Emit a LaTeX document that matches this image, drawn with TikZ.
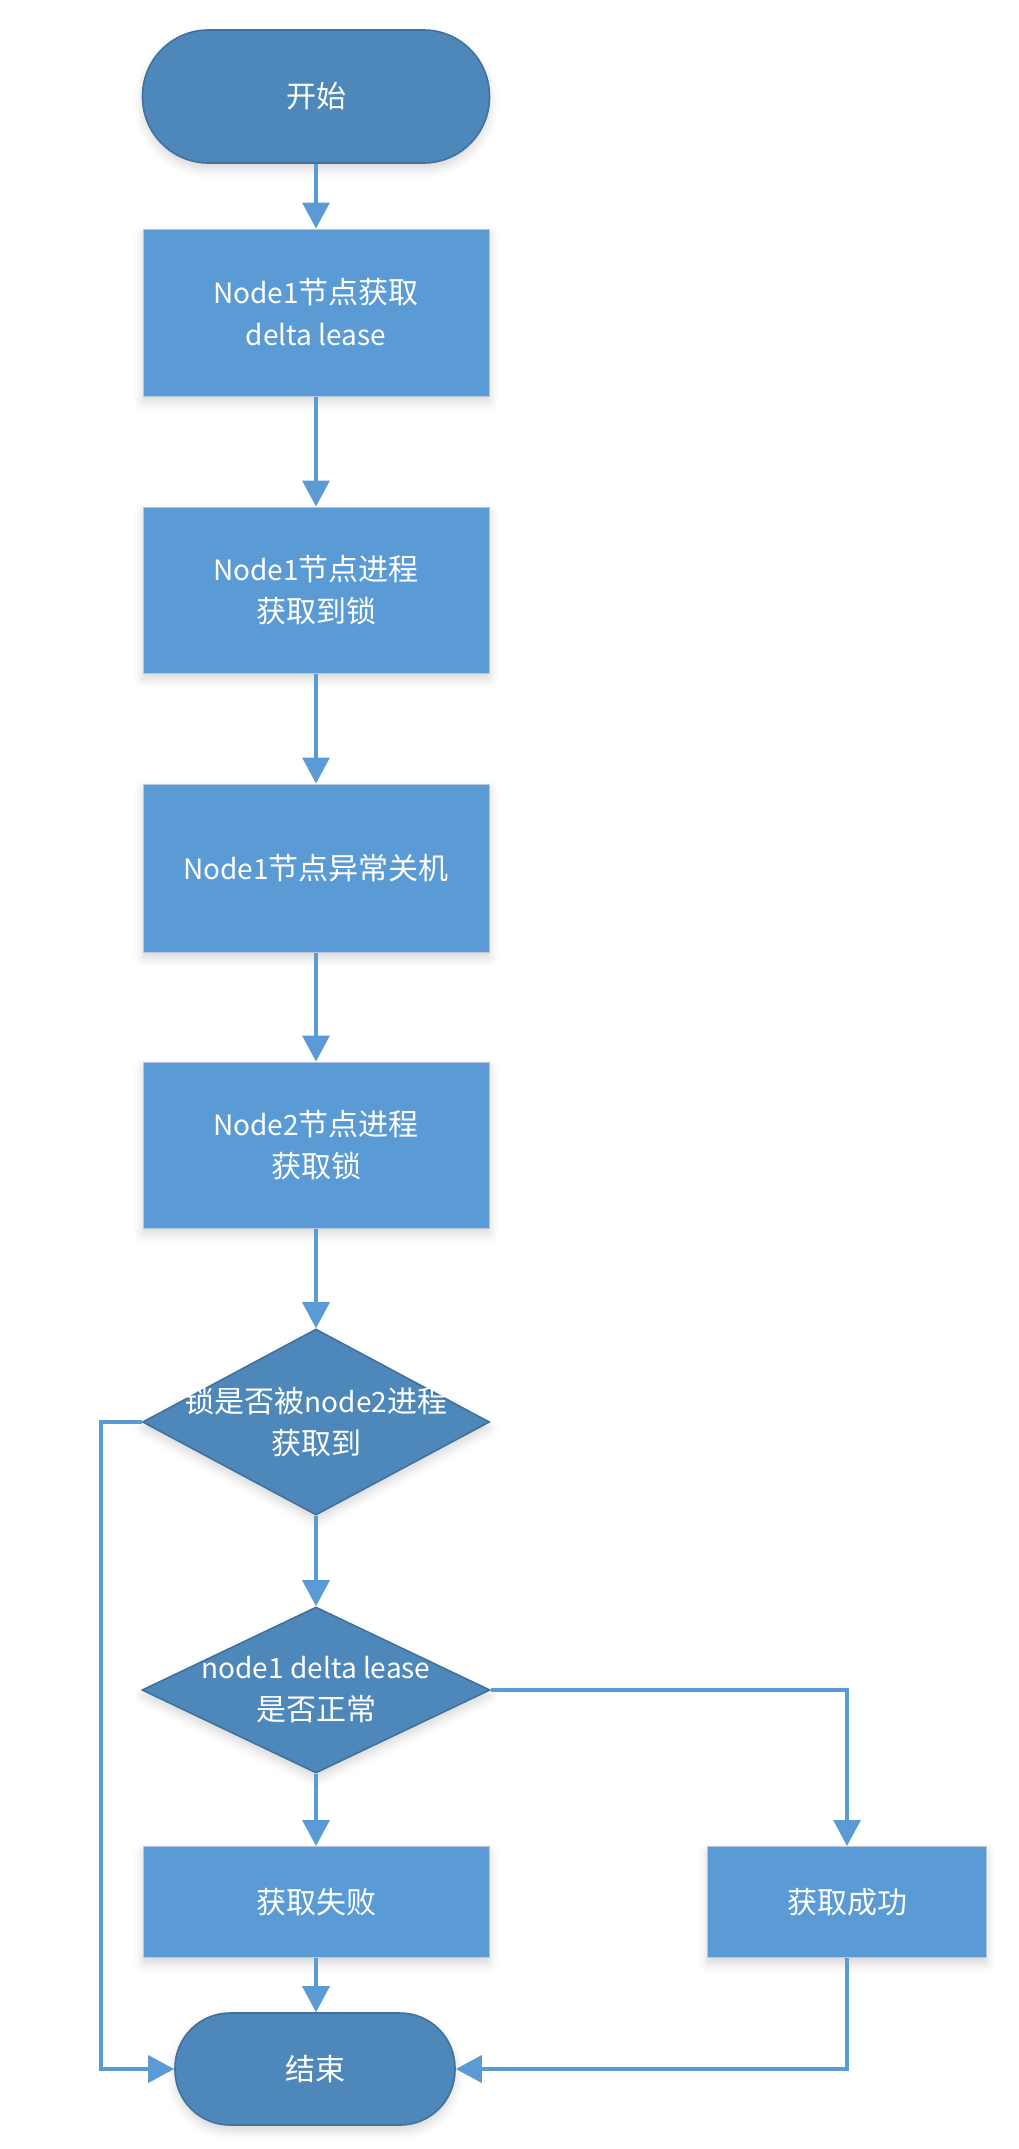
\documentclass[tikz,border=0pt]{standalone}
\usepackage{fontspec}
\setmainfont{Noto Sans CJK SC}
\usetikzlibrary{shapes.geometric,arrows.meta,shadows.blur}

\definecolor{boxfill}{HTML}{5B9BD5}
\definecolor{boxline}{HTML}{B8C8DA}
\definecolor{termfill}{HTML}{4E88BB}
\definecolor{termline}{HTML}{41719C}
\definecolor{flow}{HTML}{5B9BD5}

% Chinese characters are set a little larger than the Latin text
\newcommand\zh[1]{{\fontsize{30}{42}\selectfont#1}}

\begin{document}
\begin{tikzpicture}[x=1pt,y=-1pt,
  softshadow/.style={blur shadow={shadow xshift=0pt, shadow yshift=-6pt,
      shadow blur radius=9pt, shadow opacity=16}},
  stepbox/.style={rectangle, fill=boxfill, draw=boxline, line width=1pt,
      minimum width=346pt, minimum height=166pt, inner sep=0pt, softshadow},
  term/.style={rectangle, fill=termfill, draw=termline, line width=1.6pt,
      inner sep=0pt, softshadow},
  decision/.style={diamond, fill=termfill, draw=termline, line width=1.6pt,
      inner sep=0pt, softshadow},
  txt/.style={text=white, font=\fontsize{28}{42}\selectfont, align=center},
  flowline/.style={draw=flow, line width=3.5pt,
      -{Triangle[width=27pt,length=26pt]}},
]
\useasboundingbox (0,0) rectangle (1019,2149);

% start terminal
\node[term, rounded corners=66pt, minimum width=347pt, minimum height=133pt,
      txt] (start) at (316,96.5) {\zh{开始}};

% process steps
\node[stepbox, minimum height=167pt, txt] (b1) at (316,312.5)
  {Node1\zh{节点获取}\\delta lease};
\node[stepbox, txt] (b2) at (316,590) {Node1\zh{节点进程}\\\zh{获取到锁}};
\node[stepbox, minimum height=168pt, txt] (b3) at (316,868) {Node1\zh{节点异常关机}};
\node[stepbox, txt] (b4) at (316,1145) {Node2\zh{节点进程}\\\zh{获取锁}};

% decisions (empty diamonds, text placed on top)
\node[decision, minimum width=347pt, minimum height=186pt] (d1) at (316,1422) {};
\node[txt] (d1t) at (316,1422) {\zh{锁是否被}node2\zh{进程}\\\zh{获取到}};
\node[decision, minimum width=348pt, minimum height=166pt] (d2) at (316,1690) {};
\node[txt] (d2t) at (316,1690) {node1 delta lease\\\zh{是否正常}};

% outcomes
\node[stepbox, minimum height=111pt, txt] (fail) at (316,1902) {\zh{获取失败}};
\node[stepbox, minimum width=279pt, minimum height=111pt, txt] (ok) at (847,1902) {\zh{获取成功}};

% end terminal
\node[term, rounded corners=55pt, minimum width=280pt, minimum height=112pt,
      txt] (endn) at (315,2069) {\zh{结束}};

% connectors
\draw[flowline] (start.south) -- (b1.north);
\draw[flowline] (b1.south) -- (b2.north);
\draw[flowline] (b2.south) -- (b3.north);
\draw[flowline] (b3.south) -- (b4.north);
\draw[flowline] (b4.south) -- (d1.north);
\draw[flowline] (d1.south) -- (d2.north);
\draw[flowline] (d2.south) -- (fail.north);
\draw[flowline] (fail.south) -- (fail.south |- endn.north);

\coordinate (loopl) at (101,1422);
\draw[flowline] (d1.west) -- (loopl) |- (endn.west);
\draw[flowline] (d2.east) -| (ok.north);
\draw[flowline] (ok.south) |- (endn.east);
\end{tikzpicture}
\end{document}
